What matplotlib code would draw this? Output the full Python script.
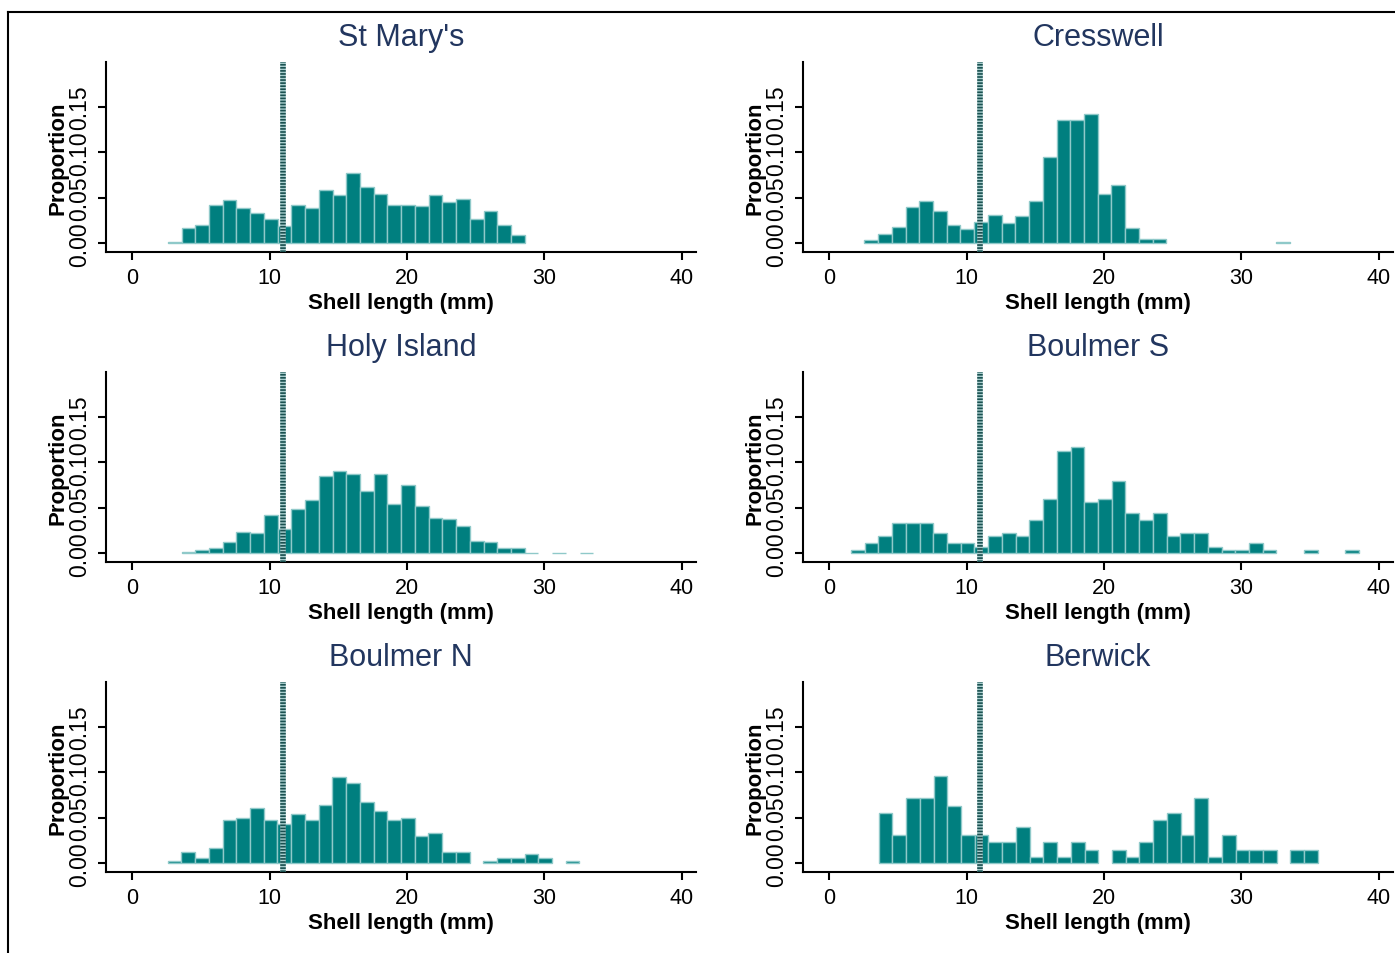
import matplotlib
matplotlib.use("Agg")
import matplotlib.pyplot as plt
from matplotlib.lines import Line2D
import numpy as np

plt.rcParams['font.family'] = ['Liberation Sans', 'DejaVu Sans']

sites = ["St Mary's", "Cresswell", "Holy Island", "Boulmer S", "Boulmer N", "Berwick"]

# first bin edge (mm) of each histogram; bins are 1 mm wide
bin_start = [2.57, 2.54, 3.57, 1.56, 2.56, 3.58]

st_marys = [0.0015, 0.0165, 0.0205, 0.0424, 0.0476, 0.0388, 0.0333, 0.0271, 0.019,
            0.0424, 0.0388, 0.0585, 0.0527, 0.0775, 0.0622, 0.0545, 0.0424, 0.0424,
            0.0413, 0.0527, 0.045, 0.0486, 0.0271, 0.0351, 0.0205, 0.0088]
cresswell = [0.0037, 0.0106, 0.0183, 0.0395, 0.0468, 0.0355, 0.0198, 0.0157, 0.0234,
             0.0315, 0.022, 0.0304, 0.0468, 0.0947, 0.135, 0.135, 0.142, 0.0538,
             0.064, 0.0168, 0.0048, 0.0048, 0, 0, 0, 0, 0, 0, 0, 0, 0.001]
holy_island = [0.0015, 0.004, 0.0059, 0.0128, 0.023, 0.0223, 0.0417, 0.0263, 0.0483,
               0.0582, 0.0849, 0.0907, 0.0867, 0.068, 0.0867, 0.0538, 0.075, 0.0523,
               0.0388, 0.0377, 0.03, 0.0139, 0.0128, 0.0055, 0.0055, 0.0008, 0,
               0.0008, 0, 0.0008]
boulmer_s = [0.0033, 0.011, 0.0187, 0.0329, 0.0329, 0.0329, 0.0223, 0.011, 0.011,
             0.0073, 0.0187, 0.0223, 0.0187, 0.037, 0.06, 0.1127, 0.1167, 0.0563,
             0.06, 0.079, 0.0446, 0.037, 0.0446, 0.0187, 0.0223, 0.0223, 0.007,
             0.0033, 0.0033, 0.011, 0.0033, 0, 0, 0.0033, 0, 0, 0.0033]
boulmer_n = [0.003, 0.0124, 0.0059, 0.0165, 0.0472, 0.0501, 0.0607, 0.0472, 0.0432,
             0.0538, 0.0472, 0.064, 0.0951, 0.0881, 0.0673, 0.0571, 0.0472, 0.0501,
             0.03, 0.0333, 0.0124, 0.0124, 0, 0.003, 0.0059, 0.0059, 0.0099, 0.0059,
             0, 0.003]
berwick = [0.0556, 0.0311, 0.0713, 0.0713, 0.0955, 0.0633, 0.0311, 0.0311, 0.023,
           0.023, 0.0395, 0.007, 0.023, 0.007, 0.023, 0.015, 0, 0.015, 0.007, 0.023,
           0.0472, 0.0556, 0.0311, 0.0713, 0.007, 0.0311, 0.015, 0.015, 0.015, 0,
           0.015, 0.015]

proportions = [st_marys, cresswell, holy_island, boulmer_s, boulmer_n, berwick]

cutoff = 11
x_ticks = [0, 10, 20, 30, 40]
y_ticks = [0.0, 0.05, 0.10, 0.15]
y_tick_labels = ["0.00", "0.05", "0.10", "0.15"]

W, H = 1395, 954
fig = plt.figure(figsize=(W / 100, H / 100), dpi=100)

bar_color = "#007f7f"
edge_color = "#8fc9c9"
title_color = "#22365f"

col_left = [106, 803]
row_bottom = [253, 563, 873]
ax_w = 590
ax_h = 190

for i, (name, vals, start) in enumerate(zip(sites, proportions, bin_start)):
    r, c = divmod(i, 2)
    left = col_left[c] / W
    bottom = 1 - row_bottom[r] / H
    ax = fig.add_axes([left, bottom, ax_w / W, ax_h / H])
    vals = np.asarray(vals, dtype=float)
    edges = start + np.arange(len(vals))
    keep = vals > 0
    ax.bar(edges[keep], vals[keep], width=1.0, align='edge', color=bar_color,
           edgecolor=edge_color, linewidth=1.0, zorder=2)
    ax.axvline(cutoff, color="#a9cfcf", linewidth=4, zorder=3)
    ax.axvline(cutoff, color="#1a5050", linewidth=4, linestyle=(0, (0.3, 0.25)), zorder=4)
    ax.set_xlim(-1.93, 41.05)
    ax.set_ylim(-0.0095, 0.199)
    ax.set_xticks(x_ticks)
    ax.set_xticklabels([str(v) for v in x_ticks])
    ax.set_yticks(y_ticks)
    ax.set_yticklabels(y_tick_labels)
    for s in ["top", "right"]:
        ax.spines[s].set_visible(False)
    for s in ["left", "bottom"]:
        ax.spines[s].set_linewidth(1.5)
        ax.spines[s].set_color("black")
    ax.tick_params(axis='x', length=6, width=1.5, pad=5, labelsize=15.5)
    ax.tick_params(axis='y', length=6, width=1.5, pad=5, labelsize=16.5, labelrotation=90)
    for lab in ax.get_yticklabels():
        lab.set_va('center')
    ax.set_xlabel("Shell length (mm)", fontsize=16, fontweight='bold', labelpad=3)
    ax.set_ylabel("Proportion", fontsize=16, fontweight='bold')
    ax.yaxis.set_label_coords(-0.063, 0.5)
    ax.set_title(name, fontsize=22, color=title_color, pad=12)
    ax.patch.set_alpha(0)

# outer frame (top and left edges)
fig.add_artist(Line2D([8 / W, 1.0], [1 - 13 / H, 1 - 13 / H], color='black', linewidth=1.5,
                      transform=fig.transFigure))
fig.add_artist(Line2D([8 / W, 8 / W], [1 - 13 / H, 0.0], color='black', linewidth=1.5,
                      transform=fig.transFigure))

fig.savefig("out.png", dpi=100)
